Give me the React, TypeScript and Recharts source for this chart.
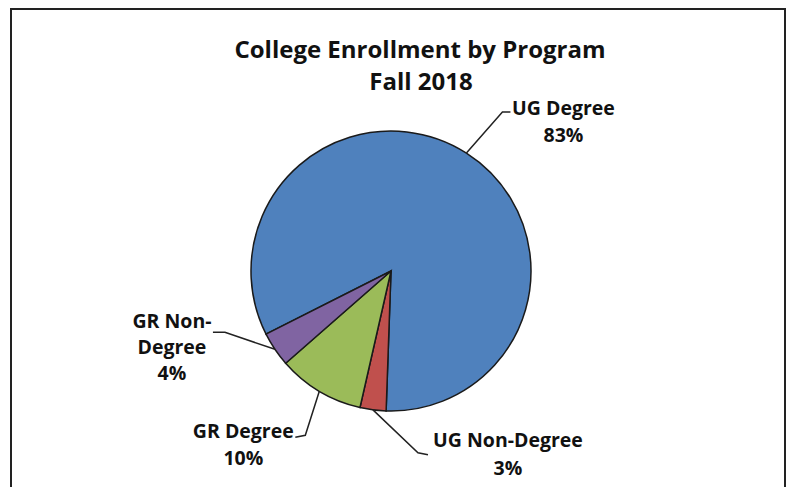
import { Cell, Pie, PieChart } from "recharts";

const categories = ["UG Degree", "UG Non-Degree", "GR Degree", "GR Non-Degree"];
const shares = [83, 3, 10, 4];
const labelLines = [
  ["UG Degree", "83%"],
  ["UG Non-Degree", "3%"],
  ["GR Degree", "10%"],
  ["GR Non-", "Degree", "4%"],
];
const colors = ["#4F81BD", "#C0504D", "#9BBB59", "#8064A2"];

// leader elbow offset from slice edge, tick end, text centre, first baseline, line gap
const labelLayout = [
  { ex: 36, ey: -41, tx: 8, ty: 0, cx: 61, by: 3, gap: 27 },
  { ex: 45, ey: 43, tx: 10, ty: 2, cx: 90, by: -6, gap: 28 },
  { ex: -14, ey: 44, tx: -10, ty: 2, cx: -62, by: 3, gap: 27 },
  { ex: -50, ey: -17, tx: -12, ty: 0, cx: -53, by: -4, gap: 26 },
];

const data = categories.map((name, i) => ({ name, value: shares[i] }));

const RAD = Math.PI / 180;
const FONT = "'Open Sans', sans-serif";

function renderLabel(props: any) {
  const { cx, cy, midAngle, outerRadius, index } = props;
  const sx = cx + Math.cos(-midAngle * RAD) * outerRadius;
  const sy = cy + Math.sin(-midAngle * RAD) * outerRadius;
  const l = labelLayout[index];
  const mx = sx + l.ex;
  const my = sy + l.ey;
  const tx = mx + l.tx;
  const ty = my + l.ty;
  const textX = mx + l.cx;
  const lines = labelLines[index];
  return (
    <g key={`lbl-${index}`}>
      <polyline
        points={`${sx},${sy} ${mx},${my} ${tx},${ty}`}
        fill="none"
        stroke="#222"
        strokeWidth={1.5}
      />
      <text
        x={textX}
        y={my + l.by}
        textAnchor="middle"
        fontFamily={FONT}
        fontWeight={700}
        fontSize={19.5}
        fill="#111"
      >
        {lines.map((t, k) => (
          <tspan key={k} x={textX} dy={k === 0 ? 0 : l.gap}>
            {t}
          </tspan>
        ))}
      </text>
    </g>
  );
}

export default function App() {
  return (
    <div
      style={{
        position: "absolute",
        left: 0,
        top: 0,
        width: 788,
        height: 487,
        background: "#fff",
        overflow: "hidden",
      }}
    >
      <PieChart width={788} height={487} margin={{ top: 0, right: 0, bottom: 0, left: 0 }}>
        <Pie
          data={data}
          dataKey="value"
          nameKey="name"
          cx={391}
          cy={271}
          outerRadius={140}
          startAngle={206.8}
          endAngle={-153.2}
          stroke="#1a1a1a"
          strokeWidth={1.5}
          label={renderLabel}
          labelLine={false}
          isAnimationActive={false}
        >
          {data.map((d, i) => (
            <Cell key={d.name} fill={colors[i]} />
          ))}
        </Pie>
      </PieChart>
      <svg
        width={788}
        height={487}
        style={{ position: "absolute", left: 0, top: 0, pointerEvents: "none" }}
      >
        <rect x={11} y={9} width={774} height={520} fill="none" stroke="#222" strokeWidth={2} />
        <text
          x={420}
          y={58}
          textAnchor="middle"
          fontFamily={FONT}
          fontWeight={700}
          fontSize={24}
          fill="#111"
        >
          College Enrollment by Program
        </text>
        <text
          x={421}
          y={90}
          textAnchor="middle"
          fontFamily={FONT}
          fontWeight={700}
          fontSize={24}
          fill="#111"
        >
          Fall 2018
        </text>
      </svg>
    </div>
  );
}
